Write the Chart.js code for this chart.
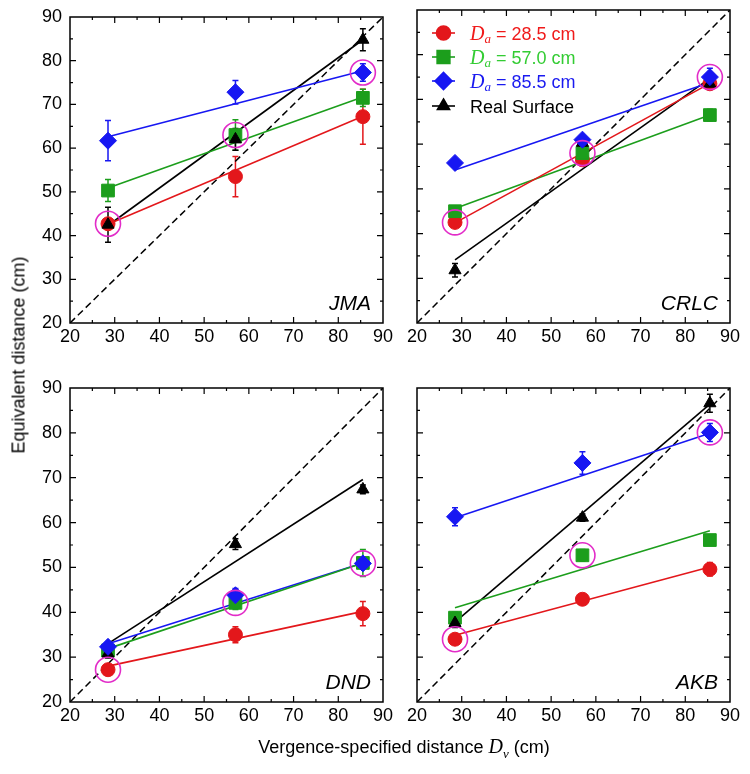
<!DOCTYPE html>
<html>
<head>
<meta charset="utf-8">
<title>Equivalent distance vs vergence-specified distance</title>
<script src="https://cdn.jsdelivr.net/npm/chart.js@4.4.0/dist/chart.umd.min.js"></script>
<style>
  html, body { margin: 0; padding: 0; background: #fff; }
  #wrap { position: relative; width: 750px; height: 774px; overflow: hidden;
          font-family: "Liberation Sans", Arial, sans-serif; color: #000; }
  #wrap canvas { position: absolute; left: 0; top: 0; }
  .ytitle { position: absolute; left: 19px; top: 355px; font-size: 18px; white-space: nowrap;
            transform: translate(-50%, -50%) rotate(-90deg); }
  .xtitle { position: absolute; left: 404px; top: 748px; font-size: 18px; white-space: nowrap;
            transform: translate(-50%, -50%); }
  .it { font-family: "Liberation Serif", "Times New Roman", serif; font-style: italic; font-size: 20px; }
  .it sub { font-size: 13px; }
</style>
</head>
<body>
<div id="wrap">
  <canvas id="jma" width="750" height="774"></canvas>
  <canvas id="crlc" width="750" height="774"></canvas>
  <canvas id="dnd" width="750" height="774"></canvas>
  <canvas id="akb" width="750" height="774"></canvas>
  <div class="ytitle">Equivalent distance (cm)</div>
  <div class="xtitle">Vergence-specified distance <span class="it">D<sub>v</sub></span> (cm)</div>
</div>
<script>
// vergence-specified distances (x) and axis ticks
const dvValues = [28.5, 57.0, 85.5];
const axisTicks = [20, 30, 40, 50, 60, 70, 80, 90];
const seriesLabels = ['28.5 cm', '57.0 cm', '85.5 cm', 'Real Surface'];

// rows: Da = 28.5, Da = 57.0, Da = 85.5, real surface
const jmaMeans  = [[42.7, 53.5, 67.2], [50.3, 63.0, 71.5], [61.7, 72.8, 77.3], [42.5, 62.0, 84.8]];
const jmaErrors = [[1.0, 4.6, 6.3], [2.5, 3.5, 2.0], [4.6, 2.7, 2.0], [4.0, 2.5, 2.5]];
const jmaFits   = [[42.6, 67.3], [50.9, 71.7], [62.6, 77.7], [42.3, 84.8]];

const crlcMeans  = [[42.5, 56.5, 73.5], [45.0, 58.0, 66.5], [55.8, 61.0, 75.0], [31.8, 60.3, 73.5]];
const crlcErrors = [[0.8, 0.8, 1.0], [1.0, 1.0, 1.3], [0.5, 0.8, 2.0], [1.5, 0.8, 1.2]];
const crlcFits   = [[42.4, 73.6], [45.6, 66.5], [54.2, 73.8], [34.1, 74.7]];

const dndMeans  = [[27.2, 35.0, 39.7], [31.5, 42.1, 51.0], [32.3, 43.8, 50.9], [30.8, 55.2, 67.4]];
const dndErrors = [[0.8, 1.8, 2.7], [1.0, 1.5, 3.0], [0.8, 1.5, 1.0], [1.0, 1.2, 1.0]];
const dndFits   = [[28.0, 40.2], [31.9, 51.0], [33.0, 51.0], [33.0, 69.6]];

const akbMeans  = [[34.0, 42.9, 49.6], [38.8, 52.7, 56.1], [61.3, 73.3, 80.1], [37.6, 61.1, 86.6]];
const akbErrors = [[0.8, 1.0, 1.5], [1.2, 1.3, 1.0], [2.0, 2.5, 2.0], [1.0, 0.8, 2.0]];
const akbFits   = [[34.9, 50.1], [41.0, 58.2], [61.1, 79.9], [37.8, 86.4]];

// styles
const markerColors = ['#e3171b', '#1c9e1c', '#1717f2', '#000000'];
const legendTextColors = ['#f01a1a', '#33cc33', '#1a1af0', '#000000'];
const markerStyles = ['circle', 'rect', 'rectRot', 'triangle'];
const markerRadius = [7, 9, 8.5, 7];
const markerOrder = [3, 2, 0, 1];   // blue on top, then black, green, red
const FONT = '"Liberation Sans", Arial, sans-serif';
const SERIF = '"Liberation Serif", "Times New Roman", serif';
const W = 750, H = 774, Y_AXIS_W = 45, X_AXIS_H = 30;

const panelDecor = {
    id: 'panelDecor',
    beforeDatasetsDraw(chart, args, opts) {
        // error bars, under the markers
        const ctx = chart.ctx, xs = chart.scales.x, ys = chart.scales.y;
        opts.means.forEach((row, s) => {
            ctx.save();
            ctx.strokeStyle = markerColors[s];
            ctx.lineWidth = 1.5;
            row.forEach((m, i) => {
                const px = xs.getPixelForValue(dvValues[i]);
                const top = ys.getPixelForValue(m + opts.errors[s][i]);
                const bot = ys.getPixelForValue(m - opts.errors[s][i]);
                ctx.beginPath();
                ctx.moveTo(px, top); ctx.lineTo(px, bot);
                ctx.moveTo(px - 3, top); ctx.lineTo(px + 3, top);
                ctx.moveTo(px - 3, bot); ctx.lineTo(px + 3, bot);
                ctx.stroke();
            });
            ctx.restore();
        });
    },
    afterDatasetsDraw(chart, args, opts) {
        const ctx = chart.ctx, xs = chart.scales.x, ys = chart.scales.y;
        const a = chart.chartArea;
        ctx.save();

        // magenta circles where Da equals Dv
        ctx.strokeStyle = '#e22cc8';
        ctx.lineWidth = 1.6;
        for (let s = 0; s < 3; s++) {
            ctx.beginPath();
            ctx.arc(xs.getPixelForValue(dvValues[s]), ys.getPixelForValue(opts.means[s][s]), 12.5, 0, Math.PI * 2);
            ctx.stroke();
        }

        // frame and inward ticks on all four sides
        ctx.strokeStyle = '#000';
        ctx.lineWidth = 1.5;
        ctx.strokeRect(a.left, a.top, a.right - a.left, a.bottom - a.top);
        ctx.lineWidth = 1.2;
        ctx.beginPath();
        for (let v = axisTicks[0] + 5; v < axisTicks[axisTicks.length - 1]; v += 5) {
            const len = v % 10 === 0 ? 6 : 3;
            const px = xs.getPixelForValue(v), py = ys.getPixelForValue(v);
            ctx.moveTo(px, a.bottom); ctx.lineTo(px, a.bottom - len);
            ctx.moveTo(px, a.top); ctx.lineTo(px, a.top + len);
            ctx.moveTo(a.left, py); ctx.lineTo(a.left + len, py);
            ctx.moveTo(a.right, py); ctx.lineTo(a.right - len, py);
        }
        ctx.stroke();

        // subject label
        ctx.fillStyle = '#000';
        ctx.font = 'italic 21px ' + FONT;
        ctx.textAlign = 'right';
        ctx.textBaseline = 'alphabetic';
        ctx.fillText(opts.name, a.right - 12, a.bottom - 13);

        if (opts.legend) drawLegend(ctx, a);
        ctx.restore();
    }
};

function drawLegend(ctx, a) {
    const rowY = [33, 57, 81, 106];
    const x0 = a.left + 15, x1 = a.left + 38, tx = a.left + 53;
    seriesLabels.forEach((label, s) => {
        const y = rowY[s];
        ctx.strokeStyle = markerColors[s];
        ctx.fillStyle = markerColors[s];
        ctx.lineWidth = 1.6;
        ctx.beginPath(); ctx.moveTo(x0, y); ctx.lineTo(x1, y); ctx.stroke();
        Chart.helpers.drawPoint(ctx, { pointStyle: markerStyles[s], radius: markerRadius[s], rotation: 0, borderWidth: 1 },
            (x0 + x1) / 2, y);
        ctx.fillStyle = legendTextColors[s];
        ctx.textAlign = 'left';
        ctx.textBaseline = 'alphabetic';
        let x = tx;
        if (s < 3) {
            ctx.font = 'italic 20px ' + SERIF;
            ctx.fillText('D', x, y + 7);
            x += ctx.measureText('D').width;
            ctx.font = 'italic 13px ' + SERIF;
            ctx.fillText('a', x, y + 10);
            x += ctx.measureText('a').width;
            ctx.font = '18px ' + FONT;
            ctx.fillText(' = ' + label, x, y + 7);
        } else {
            ctx.font = '18px ' + FONT;
            ctx.fillText(label, x, y + 7);
        }
    });
}

function makePanel(id, box, name, means, errors, fits, showYLabels, showLegend) {
    const datasets = [];
    means.forEach((row, s) => {
        datasets.push({
            data: dvValues.map((x, i) => ({ x: x, y: row[i] })),
            showLine: false,
            pointStyle: markerStyles[s],
            pointRadius: markerRadius[s],
            pointBackgroundColor: markerColors[s],
            pointBorderColor: markerColors[s],
            pointBorderWidth: 1,
            order: markerOrder[s],
            clip: false
        });
    });
    fits.forEach((f, s) => {
        datasets.push({
            data: [{ x: dvValues[0], y: f[0] }, { x: dvValues[dvValues.length - 1], y: f[1] }],
            showLine: true,
            borderColor: markerColors[s],
            borderWidth: 1.6,
            pointRadius: 0,
            order: 4 + s
        });
    });
    // identity line
    const lo = axisTicks[0], hi = axisTicks[axisTicks.length - 1];
    datasets.push({
        data: [{ x: lo, y: lo }, { x: hi, y: hi }],
        showLine: true,
        borderColor: '#000',
        borderWidth: 1.5,
        borderDash: [7, 4],
        pointRadius: 0,
        order: 10
    });

    const yW = showYLabels ? Y_AXIS_W : 0;
    const tickFont = { family: FONT, size: 18, lineHeight: 1 };
    return new Chart(document.getElementById(id), {
        type: 'scatter',
        data: { datasets: datasets },
        plugins: [panelDecor],
        options: {
            responsive: false,
            animation: false,
            events: [],
            devicePixelRatio: 1,
            layout: { padding: { left: box.left - yW, top: box.top, right: W - box.right, bottom: H - box.bottom - X_AXIS_H } },
            plugins: {
                legend: { display: false },
                tooltip: { enabled: false },
                panelDecor: { name: name, means: means, errors: errors, legend: showLegend }
            },
            scales: {
                x: {
                    type: 'linear', min: lo, max: hi,
                    afterBuildTicks: s => { s.ticks = axisTicks.map(v => ({ value: v })); },
                    afterFit: s => { s.height = X_AXIS_H; },
                    ticks: { font: tickFont, color: '#000', padding: 5, autoSkip: false, maxRotation: 0 },
                    grid: { display: false, drawTicks: false },
                    border: { display: false }
                },
                y: {
                    type: 'linear', min: lo, max: hi,
                    afterBuildTicks: s => { s.ticks = axisTicks.map(v => ({ value: v })); },
                    afterFit: s => { s.width = yW; },
                    ticks: { display: showYLabels, font: tickFont, color: '#000', padding: 8, autoSkip: false },
                    grid: { display: false, drawTicks: false },
                    border: { display: false }
                }
            }
        }
    });
}

makePanel('jma',  { left: 70,  top: 10,  right: 383, bottom: 323 }, 'JMA',  jmaMeans,  jmaErrors,  jmaFits,  true,  false);
makePanel('crlc', { left: 417, top: 10,  right: 730, bottom: 323 }, 'CRLC', crlcMeans, crlcErrors, crlcFits, false, true);
makePanel('dnd',  { left: 70,  top: 388, right: 383, bottom: 702 }, 'DND',  dndMeans,  dndErrors,  dndFits,  true,  false);
makePanel('akb',  { left: 417, top: 388, right: 730, bottom: 702 }, 'AKB',  akbMeans,  akbErrors,  akbFits,  false, false);
</script>
</body>
</html>
